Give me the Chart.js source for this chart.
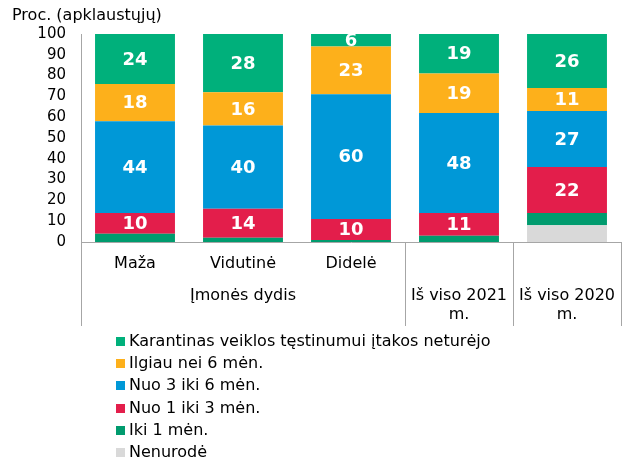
<!DOCTYPE html>
<html>
<head>
<meta charset="utf-8">
<script src="https://cdn.jsdelivr.net/npm/chart.js@4/dist/chart.umd.min.js"></script>
<style>
  html, body { margin: 0; padding: 0; background: #fff; }
  #wrap { position: relative; width: 630px; height: 462px; }
  #wrap canvas { position: absolute; left: 0; top: 0; }
  #legend { position: absolute; left: 116px; top: 330px; font: 16px "DejaVu Sans", sans-serif; color: #000; }
  #legend .item { height: 22.2px; line-height: 22.2px; white-space: nowrap; }
  #legend .box { display: inline-block; width: 9px; height: 9px; margin-right: 4px; vertical-align: 0px; }
</style>
</head>
<body>
<div id="wrap">
  <canvas id="chart" width="630" height="462"></canvas>
  <div id="legend"></div>
</div>
<script>
// ── Data ─────────────────────────────────────────────
const CATEGORIES = ['Maža', 'Vidutinė', 'Didelė', 'Iš viso 2021 m.', 'Iš viso 2020 m.'];
const CAT_LINES = [['Maža'], ['Vidutinė'], ['Didelė'], ['Iš viso 2021', 'm.'], ['Iš viso 2020', 'm.']];
const GROUP_LABEL = 'Įmonės dydis';
const GROUP_SIZE = 3;
const Y_TICKS = [0, 10, 20, 30, 40, 50, 60, 70, 80, 90, 100];
const TITLE = 'Proc. (apklaustųjų)';

const NENURODE   = [0, 0, 0, 0, 8];
const IKI_1      = [4, 2, 1, 3, 6];
const NUO_1_IKI_3 = [10, 14, 10, 11, 22];
const NUO_3_IKI_6 = [44, 40, 60, 48, 27];
const ILGIAU_6   = [18, 16, 23, 19, 11];
const KARANTINAS = [24, 28, 6, 19, 26];

const FONT = '"DejaVu Sans", sans-serif';

// ── Segment value labels ─────────────────────────────
const valueLabelPlugin = {
  id: 'valueLabels',
  afterDatasetsDraw(chart) {
    const { ctx, chartArea } = chart;
    ctx.save();
    ctx.beginPath();
    ctx.rect(chartArea.left, chartArea.top, chartArea.right - chartArea.left, chartArea.bottom - chartArea.top);
    ctx.clip();
    ctx.fillStyle = '#fff';
    ctx.font = 'bold 18px ' + FONT;
    ctx.textAlign = 'center';
    ctx.textBaseline = 'middle';
    chart.data.datasets.forEach((ds, di) => {
      if (!ds.showValues) return;
      chart.getDatasetMeta(di).data.forEach((bar, i) => {
        const v = ds.data[i];
        if (!v) return;
        const { x, y, base } = bar.getProps(['x', 'y', 'base'], true);
        ctx.fillText(String(v), x, (y + base) / 2 + 1);
      });
    });
    ctx.restore();
  }
};

// ── Multi-level category axis + title ────────────────
const categoryAxisPlugin = {
  id: 'categoryAxis',
  afterDraw(chart) {
    const { ctx, chartArea, scales } = chart;
    const xs = scales.x;
    const n = CATEGORIES.length;
    const step = xs.getPixelForValue(1) - xs.getPixelForValue(0);
    const top = chartArea.bottom;
    const bottom = 326;

    ctx.save();
    ctx.strokeStyle = '#A6A6A6';
    ctx.lineWidth = 1;
    // separators: left edge, after group, between totals, right edge
    const seps = [0, GROUP_SIZE, 4, n];
    seps.forEach(k => {
      const px = Math.round(xs.getPixelForValue(0) - step / 2 + k * step) + 0.5;
      ctx.beginPath();
      ctx.moveTo(px, top);
      ctx.lineTo(px, bottom);
      ctx.stroke();
    });

    ctx.fillStyle = '#000';
    ctx.font = '16px ' + FONT;
    ctx.textAlign = 'center';
    ctx.textBaseline = 'middle';
    CAT_LINES.forEach((lines, i) => {
      const cx = xs.getPixelForValue(i);
      if (i < GROUP_SIZE) {
        ctx.fillText(lines[0], cx, 264);
      } else {
        lines.forEach((t, j) => ctx.fillText(t, cx, 296 + j * 19));
      }
    });
    const gx = (xs.getPixelForValue(0) + xs.getPixelForValue(GROUP_SIZE - 1)) / 2;
    ctx.fillText(GROUP_LABEL, gx, 296);

    ctx.textAlign = 'left';
    ctx.fillText(TITLE, 12, 16);
    ctx.restore();
  }
};

window.addEventListener('DOMContentLoaded', () => {
  const ctx = document.getElementById('chart').getContext('2d');
  const mk = (label, data, color, showValues) => ({
    label, data, backgroundColor: color, borderWidth: 0,
    barPercentage: 0.74, categoryPercentage: 1, showValues
  });

  const chart = new Chart(ctx, {
    type: 'bar',
    plugins: [valueLabelPlugin, categoryAxisPlugin],
    data: {
      labels: CATEGORIES,
      datasets: [
        mk('Nenurodė', NENURODE, '#D9D9D9', false),
        mk('Iki 1 mėn.', IKI_1, '#009B6E', false),
        mk('Nuo 1 iki 3 mėn.', NUO_1_IKI_3, '#E31E4B', true),
        mk('Nuo 3 iki 6 mėn.', NUO_3_IKI_6, '#0098D7', true),
        mk('Ilgiau nei 6 mėn.', ILGIAU_6, '#FDB01B', true),
        mk('Karantinas veiklos tęstinumui įtakos neturėjo', KARANTINAS, '#00B07B', true),
      ]
    },
    options: {
      responsive: false,
      animation: false,
      layout: { padding: { top: 34, right: 9, bottom: 220, left: 0 } },
      plugins: { legend: { display: false }, tooltip: { enabled: false } },
      scales: {
        x: {
          stacked: true,
          grid: { display: false, drawTicks: false },
          border: { display: true, color: '#A6A6A6', width: 1 },
          ticks: { display: false },
          afterFit(s) { s.height = 0; }
        },
        y: {
          stacked: true,
          min: 0, max: 100,
          afterBuildTicks(s) { s.ticks = Y_TICKS.map(v => ({ value: v })); },
          grid: { display: false, drawTicks: false },
          border: { display: true, color: '#A6A6A6', width: 1 },
          ticks: { color: '#000', font: { family: FONT, size: 15 }, padding: 15, autoSkip: false },
          afterFit(s) { s.width = 81; }
        }
      }
    }
  });

  // ── HTML legend, top series first ─────────────────
  const legend = document.getElementById('legend');
  chart.data.datasets.slice().reverse().forEach(ds => {
    const row = document.createElement('div');
    row.className = 'item';
    const box = document.createElement('span');
    box.className = 'box';
    box.style.background = ds.backgroundColor;
    row.appendChild(box);
    row.appendChild(document.createTextNode(ds.label));
    legend.appendChild(row);
  });
});
</script>
</body>
</html>
